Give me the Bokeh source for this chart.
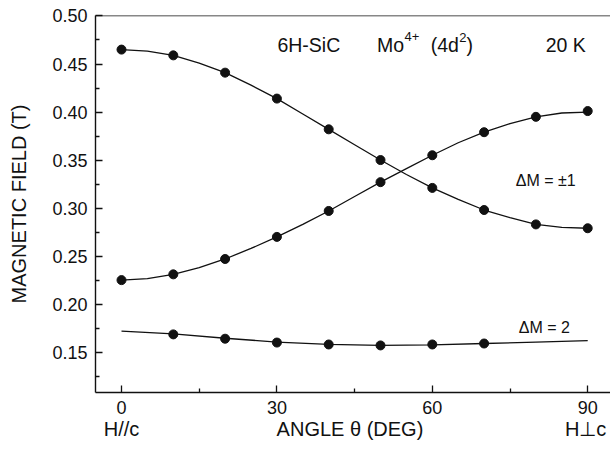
from bokeh.plotting import figure
from bokeh.models import Range1d, FixedTicker, Label, Span, LinearAxis
from bokeh.embed import file_html
from bokeh.resources import INLINE

# ---- data ----
angles = [0, 10, 20, 30, 40, 50, 60, 70, 80, 90]
upper_pts = [0.465, 0.459, 0.441, 0.414, 0.382, 0.350, 0.321, 0.298, 0.283, 0.279]
rising_pts = [0.225, 0.231, 0.247, 0.270, 0.297, 0.327, 0.355, 0.379, 0.395, 0.401]
dm2_angles = [10, 20, 30, 40, 50, 60, 70]
dm2_pts = [0.1685, 0.164, 0.160, 0.158, 0.157, 0.158, 0.159]

curve_angles = [0, 5, 10, 15, 20, 25, 30, 35, 40, 45, 50, 55, 60, 65, 70, 75, 80, 85, 90]
upper_curve = [0.465, 0.4635, 0.459, 0.451, 0.441, 0.428, 0.414, 0.398, 0.382, 0.366,
               0.350, 0.335, 0.321, 0.309, 0.298, 0.290, 0.283, 0.280, 0.279]
rising_curve = [0.225, 0.2265, 0.231, 0.238, 0.247, 0.258, 0.270, 0.283, 0.297, 0.312,
                0.327, 0.341, 0.355, 0.368, 0.379, 0.388, 0.395, 0.399, 0.400]
dm2_curve_angles = [0, 10, 20, 30, 40, 50, 60, 70, 80, 90]
dm2_curve = [0.172, 0.169, 0.1645, 0.1605, 0.158, 0.157, 0.1575, 0.159, 0.1605, 0.162]

x_ticks = [0, 30, 60, 90]
x_minor = [15, 45, 75]
y_ticks = [0.15, 0.20, 0.25, 0.30, 0.35, 0.40, 0.45, 0.50]
y_minor = [0.125, 0.175, 0.225, 0.275, 0.325, 0.375, 0.425, 0.475]
# second row of texts under the x axis
under_pos = [0, 44.1, 89.6]
under_text = ["H//c", "ANGLE \u03b8 (DEG)", "H\u22a5c"]

FONT = "Liberation Sans"
INK = "#111111"
Y_TOP = 0.5005

p = figure(width=610, height=449, output_backend="svg", toolbar_location=None,
           x_range=Range1d(-5.02, 94.4), y_range=Range1d(0.108, Y_TOP),
           min_border_left=95, min_border_right=0, min_border_top=15, min_border_bottom=57)
p.outline_line_color = None
p.grid.visible = False
p.background_fill_color = "white"
p.border_fill_color = "white"

for src_x, src_y in ((curve_angles, upper_curve), (curve_angles, rising_curve),
                     (dm2_curve_angles, dm2_curve)):
    p.line(src_x, src_y, line_color=INK, line_width=1.3)

for src_x, src_y in ((angles, upper_pts), (angles, rising_pts), (dm2_angles, dm2_pts)):
    p.scatter(src_x, src_y, size=9, fill_color=INK, line_color=INK)

# axes
xa = p.xaxis[0]
xa.ticker = FixedTicker(ticks=x_ticks, minor_ticks=x_minor)
ya = p.yaxis[0]
ya.ticker = FixedTicker(ticks=y_ticks, minor_ticks=y_minor)
ya.major_label_overrides = {t: f"{t:.2f}" for t in y_ticks}
for ax in (xa, ya):
    ax.axis_line_color = INK
    ax.axis_line_width = 1.4
    ax.major_tick_line_color = INK
    ax.minor_tick_line_color = INK
    ax.major_tick_line_width = 1.3
    ax.minor_tick_line_width = 1.3
    ax.major_tick_in = 7
    ax.major_tick_out = 0
    ax.minor_tick_in = 4
    ax.minor_tick_out = 0
    ax.major_label_text_font = FONT
    ax.major_label_text_font_size = "18px"
    ax.major_label_text_color = INK
xa.major_label_standoff = 8
ya.major_label_standoff = 8
ya.axis_label = "MAGNETIC FIELD (T)"
ya.axis_label_text_font = FONT
ya.axis_label_text_font_size = "20px"
ya.axis_label_text_font_style = "normal"
ya.axis_label_text_color = INK
ya.axis_label_standoff = 19

under = LinearAxis(ticker=FixedTicker(ticks=under_pos),
                   major_label_overrides={x: t for x, t in zip(under_pos, under_text)},
                   axis_line_color=None, major_tick_line_color=None,
                   minor_tick_line_color=None, major_label_standoff=-5,
                   major_label_text_font=FONT, major_label_text_font_size="20px",
                   major_label_text_color=INK)
p.add_layout(under, "below")

p.add_layout(Span(location=Y_TOP, dimension="width", line_color=INK, line_width=1.4))

def lab(text, x, y, size, align="left"):
    p.add_layout(Label(x=x, y=y, text=text, text_font=FONT,
                       text_font_size=size, text_color=INK, text_align=align,
                       text_baseline="alphabetic"))

lab("6H-SiC", 30.1, 0.4693, "19.5px")
lab("Mo", 54.55, 0.4693, "19.5px", align="right")
lab("4+", 54.65, 0.4786, "13px")
lab("(4d", 59.7, 0.4693, "19.5px")
lab("2", 65.2, 0.4776, "13px")
lab(")", 66.6, 0.4693, "19.5px")
lab("20 K", 81.9, 0.4693, "19.5px")
lab("\u0394M = \u00b11", 76.1, 0.3286, "16px")
lab("\u0394M = 2", 76.7, 0.1752, "16px")

open("out.html", "w").write(file_html(p, INLINE))
